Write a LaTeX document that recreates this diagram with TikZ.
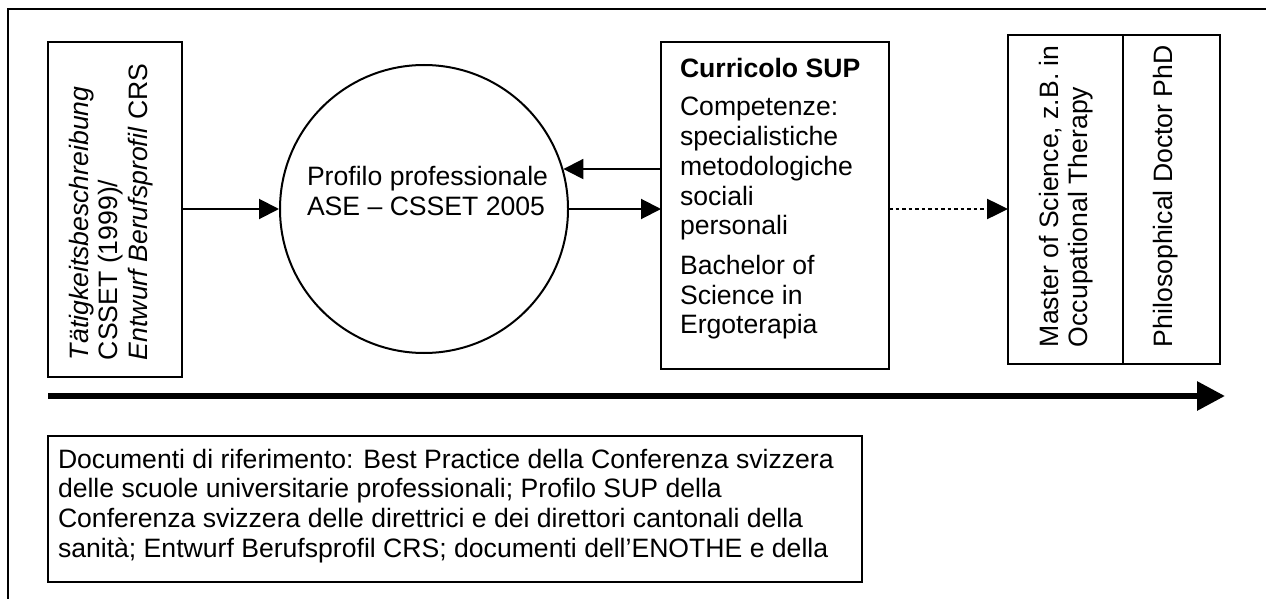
\documentclass[tikz,border=0pt]{standalone}
\usepackage{fontspec}
\setmainfont{Liberation Sans}
\usetikzlibrary{arrows.meta}

\tikzset{
  box/.style={draw, line width=2.2pt, inner sep=0pt, outer sep=0pt},
  txt/.style={inner sep=0pt, outer sep=0pt, align=left,
    font=\fontsize{26.6}{29.7}\selectfont},
  vtxt/.style={txt, rotate=90, anchor=west},
  arr/.style={line width=2pt, -{Triangle[length=20pt,width=20pt]}},
  dotarr/.style={line width=2.5pt, dash pattern=on 3.5pt off 3pt,
    -{Triangle[length=21pt,width=20pt]}},
  timearr/.style={line width=6pt, -{Triangle[length=28pt,width=28pt]}}
}

\begin{document}
\begin{tikzpicture}[x=1pt, y=-1pt]
  \useasboundingbox (0,0) rectangle (1266,599);

  % outer frame (open to the right and bottom)
  \draw[line width=2.6pt] (8,599) -- (8,9) -- (1266,9);

  % source documents
  \node[box, minimum width=134pt, minimum height=335pt] (lb) at (115,209.5) {};
  \node[vtxt] (lbt) at (111,360)
    {\textit{Tätigkeitsbeschreibung}\\CSSET (1999)/\\\textit{Entwurf Berufsprofil} CRS};

  % professional profile
  \node[draw, circle, line width=2pt, minimum size=288pt, inner sep=0pt] (circ) at (424,209) {};
  \node[txt, anchor=west] (ct) at (307,191) {Profilo professionale\\ASE – CSSET 2005};

  % curriculum
  \node[box, minimum width=228pt, minimum height=327pt] (mb) at (775,205.5) {};
  \node[txt, anchor=north west] (mt) at (680,58)
    {\textbf{Curricolo SUP}\\[9pt]
     Competenze:\\specialistiche\\metodologiche\\sociali\\personali\\[10pt]
     Bachelor of\\Science in\\Ergoterapia};

  % further degrees
  \node[box, minimum width=115pt, minimum height=329pt] (rb1) at (1065.5,199.5) {};
  \node[box, minimum width=97pt, minimum height=329pt] (rb2) at (1171.5,199.5) {};
  \node[vtxt] (rt1) at (1066,347) {Master of Science, z.B. in\\Occupational Therapy};
  \node[vtxt] (rt2) at (1166,347) {Philosophical Doctor PhD};

  % connectors
  \draw[arr] (lb.east |- circ.west) -- (circ.west);
  \draw[arr] (mb.west |- circ.16.5) -- (circ.16.5);
  \draw[arr] (circ.east) -- (mb.west |- circ.east);
  \draw[dotarr] (mb.east |- circ.east) -- (rb1.west |- circ.east);

  % time line
  \coordinate (t0) at (48,396);
  \coordinate (t1) at (1225,396);
  \draw[timearr] (t0) -- (t1);

  % reference documents
  \node[box, minimum width=814pt, minimum height=146pt] (bb) at (455,509) {};
  \node[txt, anchor=north west] (bt) at (58,449)
    {Documenti di riferimento: Best Practice della Conferenza svizzera\\
     delle scuole universitarie professionali; Profilo SUP della\\
     Conferenza svizzera delle direttrici e dei direttori cantonali della\\
     sanità; Entwurf Berufsprofil CRS; documenti dell’ENOTHE e della};
\end{tikzpicture}
\end{document}
